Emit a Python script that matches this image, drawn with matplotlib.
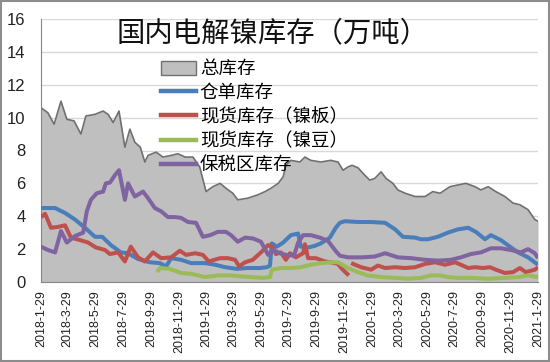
import numpy as np
import pandas as pd
import matplotlib
matplotlib.use("Agg")
import matplotlib.pyplot as plt
from matplotlib.patches import Patch, Rectangle
from matplotlib.lines import Line2D

plt.rcParams['font.family'] = ['Noto Sans CJK SC', 'DejaVu Sans']

# ---------------------------------------------------
#   Data (万吨)
# ---------------------------------------------------
title = '国内电解镍库存（万吨）'
names = ['总库存', '仓单库存', '现货库存（镍板）', '现货库存（镍豆）', '保税区库存']
colors = ['#BFBFBF', '#4A7EBB', '#C0504D', '#9BBB59', '#8064A2']

tick_dates = ['2018-1-29', '2018-3-29', '2018-5-29', '2018-7-29', '2018-9-29',
              '2018-11-29', '2019-1-29', '2019-3-29', '2019-5-29', '2019-7-29',
              '2019-9-29', '2019-11-29', '2020-1-29', '2020-3-29', '2020-5-29',
              '2020-7-29', '2020-9-29', '2020-11-29', '2021-1-29']

total_dates = ['2018-01-29', '2018-02-13', '2018-02-27', '2018-03-14', '2018-03-27',
               '2018-04-12', '2018-04-27', '2018-05-08', '2018-05-28', '2018-06-15',
               '2018-06-26', '2018-07-07', '2018-07-20', '2018-08-02', '2018-08-13',
               '2018-08-24', '2018-09-05', '2018-09-15', '2018-09-22', '2018-10-10',
               '2018-10-25', '2018-11-12', '2018-11-27', '2018-12-13', '2018-12-30',
               '2019-01-14', '2019-01-28', '2019-02-12', '2019-02-28', '2019-03-13',
               '2019-03-28', '2019-04-08', '2019-04-30', '2019-05-22', '2019-06-07',
               '2019-06-20', '2019-07-06', '2019-07-17', '2019-07-23', '2019-08-03',
               '2019-08-23', '2019-09-03', '2019-09-16', '2019-10-08', '2019-10-30',
               '2019-11-15', '2019-11-26', '2019-12-07', '2019-12-16', '2019-12-29',
               '2020-01-13', '2020-01-24', '2020-02-04', '2020-02-18', '2020-02-29',
               '2020-03-15', '2020-03-26', '2020-04-11', '2020-05-03', '2020-05-25',
               '2020-06-11', '2020-06-27', '2020-07-19', '2020-08-05', '2020-08-23',
               '2020-09-12', '2020-09-25', '2020-10-11', '2020-10-28', '2020-11-17',
               '2020-12-05', '2020-12-20', '2021-01-07', '2021-01-22', '2021-01-29']
total = [10.6, 10.3, 9.6, 11.0, 9.9,
         9.8, 9.0, 10.1, 10.2, 10.4,
         10.2, 9.7, 10.4, 8.2, 9.3,
         8.5, 8.2, 7.3, 7.7, 7.9,
         7.6, 7.7, 7.8, 7.6, 7.6,
         7.0, 5.5, 5.8, 6.0, 5.7,
         5.4, 5.0, 5.1, 5.3, 5.5,
         5.7, 6.0, 6.4, 7.1, 7.4,
         7.3, 7.6, 7.4, 7.3, 7.4,
         7.3, 6.8, 7.0, 7.1, 6.95,
         6.5, 6.2, 6.3, 6.7, 6.3,
         6.0, 5.6, 5.4, 5.2, 5.2,
         5.5, 5.4, 5.8, 5.9, 6.0,
         5.8, 5.6, 5.8, 5.5, 5.2,
         4.8, 4.7, 4.4, 3.8, 3.7]

warrant_dates = ['2018-01-29', '2018-03-01', '2018-03-23', '2018-04-14', '2018-05-06',
                 '2018-05-28', '2018-06-13', '2018-07-02', '2018-07-24', '2018-08-09',
                 '2018-08-31', '2018-09-26', '2018-10-18', '2018-11-01', '2018-11-12',
                 '2018-12-04', '2018-12-26', '2019-01-26', '2019-02-17', '2019-03-11',
                 '2019-04-06', '2019-04-28', '2019-05-27', '2019-06-11', '2019-06-18',
                 '2019-06-22', '2019-07-03', '2019-07-17', '2019-08-03', '2019-08-19',
                 '2019-08-25', '2019-09-10', '2019-09-25', '2019-10-08', '2019-10-28',
                 '2019-11-10', '2019-11-19', '2019-11-30', '2019-12-29', '2020-01-27',
                 '2020-02-27', '2020-03-20', '2020-04-06', '2020-05-03', '2020-05-16',
                 '2020-05-31', '2020-06-22', '2020-07-14', '2020-08-05', '2020-08-28',
                 '2020-09-14', '2020-10-04', '2020-10-17', '2020-11-08', '2020-11-28',
                 '2020-12-16', '2021-01-07', '2021-01-29']
warrant = [4.5, 4.5, 4.2, 3.8, 3.3,
           2.75, 2.75, 2.25, 1.8, 1.75,
           1.4, 1.2, 1.15, 0.95, 1.45,
           1.35, 1.15, 1.15, 1.05, 0.9,
           0.8, 0.85, 0.85, 0.9, 1.0,
           2.35, 2.15, 2.4, 2.85, 2.95,
           2.15, 2.1, 2.2, 2.35, 2.7,
           3.3, 3.6, 3.7, 3.65, 3.65,
           3.6, 3.2, 2.75, 2.7, 2.6,
           2.6, 2.75, 3.0, 3.2, 3.3,
           3.05, 2.6, 2.85, 2.55, 2.15,
           1.8, 1.5, 1.05]

plate_dates = ['2018-01-29', '2018-02-07', '2018-02-20', '2018-03-07', '2018-03-23',
               '2018-04-05', '2018-04-25', '2018-05-13', '2018-05-30', '2018-06-19',
               '2018-06-30', '2018-07-18', '2018-08-02', '2018-08-15', '2018-08-31',
               '2018-09-15', '2018-10-03', '2018-10-21', '2018-11-12', '2018-12-01',
               '2018-12-15', '2019-01-04', '2019-01-21', '2019-02-03', '2019-02-28',
               '2019-03-17', '2019-04-02', '2019-04-11', '2019-04-24', '2019-05-11',
               '2019-05-29', '2019-06-14', '2019-06-25', '2019-07-01', '2019-07-12',
               '2019-07-23', '2019-08-01', '2019-08-14', '2019-08-30', '2019-09-03',
               '2019-09-10', '2019-09-27', '2019-10-17', '2019-10-30', '2019-11-15',
               '2019-11-22', '2019-12-03', '2019-12-09', '2019-12-11', '2019-12-14',
               '2020-01-05', '2020-01-27', '2020-02-11', '2020-02-27', '2020-03-20',
               '2020-04-11', '2020-05-03', '2020-05-25', '2020-06-16', '2020-07-08',
               '2020-07-30', '2020-08-12', '2020-08-28', '2020-09-12', '2020-09-30',
               '2020-10-15', '2020-10-28', '2020-11-17', '2020-12-05', '2020-12-20',
               '2021-01-02', '2021-01-22', '2021-01-29']
plate = [3.95, 4.15, 3.3, 3.35, 3.45,
         2.7, 2.55, 2.4, 2.1, 1.95,
         1.7, 1.8, 1.25, 2.15, 1.5,
         1.25, 1.8, 1.45, 1.5, 1.9,
         1.65, 1.75, 1.65, 1.25, 1.45,
         1.45, 1.35, 0.95, 1.2, 1.35,
         1.8, 2.25, 2.1, 1.7, 1.8,
         1.35, 1.75, 1.5, 1.75, 2.3,
         1.45, 1.45, 1.25, 1.2, 1.1,
         0.85, 0.55, 0.4, np.nan, 1.15,
         0.9, 0.75, 1.0, 0.85, 0.9,
         0.85, 0.9, 1.1, 1.2, 1.05,
         1.2, 1.05, 0.85, 0.9, 0.85,
         0.9, 0.75, 0.55, 0.6, 0.85,
         0.6, 0.75, 0.9]

bean_dates = ['2018-10-12', '2018-10-18', '2018-11-09', '2018-12-04', '2018-12-26',
              '2019-01-26', '2019-02-23', '2019-03-24', '2019-04-13', '2019-05-07',
              '2019-06-03', '2019-06-18', '2019-06-22', '2019-07-12', '2019-08-03',
              '2019-08-25', '2019-09-16', '2019-10-08', '2019-10-30', '2019-11-15',
              '2019-12-07', '2019-12-29', '2020-01-20', '2020-02-18', '2020-03-20',
              '2020-04-17', '2020-05-16', '2020-06-07', '2020-06-27', '2020-07-14',
              '2020-08-05', '2020-09-03', '2020-10-11', '2020-11-17', '2020-12-16',
              '2021-01-07', '2021-01-29']
bean = [0.6, 0.85, 0.8, 0.55, 0.5,
        0.3, 0.4, 0.4, 0.35, 0.3,
        0.25, 0.3, 0.75, 0.85, 0.85,
        0.9, 1.05, 1.15, 1.2, 1.2,
        0.85, 0.6, 0.4, 0.3, 0.25,
        0.2, 0.25, 0.4, 0.4, 0.3,
        0.25, 0.25, 0.2, 0.25, 0.3,
        0.4, 0.3]

bonded_dates = ['2018-01-29', '2018-02-13', '2018-03-01', '2018-03-14', '2018-03-27',
                '2018-04-14', '2018-05-02', '2018-05-10', '2018-05-19', '2018-06-01',
                '2018-06-15', '2018-06-21', '2018-06-30', '2018-07-11', '2018-07-20',
                '2018-08-02', '2018-08-09', '2018-08-24', '2018-09-11', '2018-09-22',
                '2018-10-07', '2018-10-21', '2018-11-05', '2018-11-20', '2018-12-04',
                '2018-12-19', '2019-01-06', '2019-01-21', '2019-02-06', '2019-02-23',
                '2019-03-13', '2019-03-24', '2019-04-08', '2019-04-24', '2019-05-11',
                '2019-05-29', '2019-06-14', '2019-06-25', '2019-07-10', '2019-07-23',
                '2019-08-10', '2019-08-19', '2019-08-30', '2019-09-16', '2019-10-06',
                '2019-10-24', '2019-11-08', '2019-11-19', '2019-12-07', '2020-01-07',
                '2020-02-04', '2020-02-27', '2020-03-26', '2020-04-24', '2020-05-25',
                '2020-06-22', '2020-07-21', '2020-08-12', '2020-09-03', '2020-09-25',
                '2020-10-17', '2020-11-08', '2020-11-30', '2020-12-22', '2021-01-07',
                '2021-01-22', '2021-01-29']
bonded = [2.15, 1.95, 1.8, 3.1, 2.4,
          2.8, 3.0, 4.3, 5.0, 5.4,
          5.5, 6.0, 6.05, 6.5, 6.8,
          5.0, 6.0, 5.2, 5.5, 5.1,
          4.5, 4.3, 3.95, 3.95, 3.9,
          3.65, 3.6, 2.75, 2.85, 3.05,
          3.05, 2.85, 2.45, 2.7, 2.65,
          2.45, 1.65, 1.95, 1.75, 1.65,
          1.6, 2.4, 2.85, 2.85, 2.7,
          2.5, 1.95, 1.6, 1.5, 1.5,
          1.55, 1.75, 1.5, 1.45, 1.35,
          1.3, 1.35, 1.5, 1.7, 1.8,
          2.05, 2.05, 1.95, 1.8, 2.0,
          1.75, 1.45]

# ---------------------------------------------------
#   Figure
# ---------------------------------------------------
W, H = 550, 362
fig = plt.figure(figsize=(W / 100, H / 100), dpi=100)
ax = fig.add_axes([41 / W, 1 - 282 / H, (538 - 41) / W, (282 - 19) / H])

td = pd.to_datetime(total_dates)
ax.fill_between(td, 0, total, color=colors[0], lw=0, zorder=1)
ax.plot(td, total, color='#707070', lw=1.2, zorder=2)

series = [(warrant_dates, warrant), (plate_dates, plate),
          (bean_dates, bean), (bonded_dates, bonded)]
for (d, v), c in zip(series, colors[1:]):
    ax.plot(pd.to_datetime(d), v, color=c, lw=2.9, zorder=3,
            solid_joinstyle='round', solid_capstyle='butt')

ax.set_xlim(pd.Timestamp('2018-01-29'), pd.Timestamp('2021-01-29'))
ax.set_ylim(0, 16)
ax.set_yticks(np.arange(0, 17, 2))
ax.set_axisbelow(True)
ax.yaxis.grid(True, color='#D9D9D9', lw=1, zorder=0)

ax.set_xticks(pd.to_datetime(tick_dates))
ax.set_xticklabels(tick_dates, rotation=90, fontsize=9, family='Liberation Sans')
for lab in ax.get_yticklabels():
    lab.set_family('Liberation Sans')
    lab.set_fontsize(12)
ax.tick_params(axis='x', length=0, pad=6, colors='#222222')
ax.tick_params(axis='y', length=0, pad=11, colors='#222222')

for s in ['top', 'right']:
    ax.spines[s].set_visible(False)
ax.spines['left'].set_color('#868686')
ax.spines['bottom'].set_color('#868686')
ax.spines['bottom'].set_zorder(4)

fig.text(273 / W, 1 - 33 / H, title, fontsize=20.4, ha='center', va='center',
         color='#111111')

handles = [Patch(facecolor=colors[0], edgecolor='#707070', lw=1)]
handles += [Line2D([], [], color=c, lw=3.2) for c in colors[1:]]
ax.legend(handles, names, loc='upper left', bbox_to_anchor=(161 / W, 1 - 60 / H),
          bbox_transform=fig.transFigure, frameon=False, fontsize=13.3,
          handlelength=1.9, handleheight=0.8, handletextpad=0.2,
          labelspacing=0.33, borderpad=0, borderaxespad=0)

fig.patches.append(Rectangle((0.002, 0.003), 0.996, 0.994, transform=fig.transFigure,
                             fill=False, ec='#8C8C8C', lw=1.5))

fig.savefig('out.png', dpi=100)
